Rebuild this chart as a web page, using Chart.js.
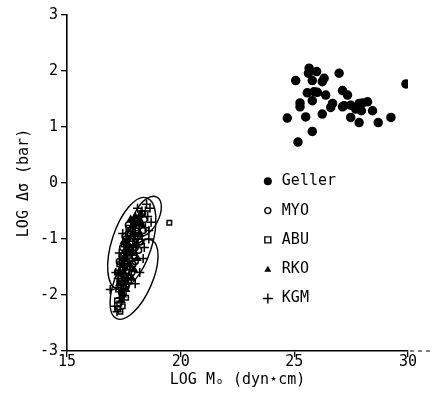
<!DOCTYPE html>
<html>
<head>
<meta charset="utf-8">
<script src="https://cdn.jsdelivr.net/npm/chart.js@4/dist/chart.umd.min.js"></script>
<style>
html,body{margin:0;padding:0;background:#fff;}
#wrap{width:432px;height:394px;}
</style>
</head>
<body>
<div id="wrap"><canvas id="c" width="432" height="394"></canvas></div>
<script>
// ---- data (LOG Mo, LOG stress drop) ----
const gellerX = [25.65,25.98,25.62,26.97,25.06,25.79,26.23,26.31,25.57,25.87,26.01,26.38,27.12,27.34,25.25,25.25,25.79,26.68,26.60,27.12,24.69,25.50,26.23,25.79,25.16,29.91,27.19,27.48,27.85,28.00,28.22,27.70,27.95,28.44,27.48,27.85,28.69,29.25];
const gellerY = [2.05,1.99,1.96,1.96,1.83,1.83,1.81,1.87,1.61,1.63,1.62,1.57,1.65,1.57,1.43,1.36,1.47,1.42,1.35,1.36,1.16,1.18,1.23,0.92,0.73,1.77,1.38,1.39,1.42,1.43,1.45,1.32,1.29,1.29,1.17,1.08,1.08,1.17];

const myoX = [17.6,17.8,18.0,17.5,17.9,18.2,17.7,18.1,17.4,17.95,18.3,17.65,18.05,17.55,17.85,17.3,18.15,17.75,18.4,17.6,17.7,18.25,17.45,17.7,18.0,17.6,17.85,18.1,17.5,17.8,18.2,17.35,17.95,17.55,18.35,17.4,17.7];
const myoY = [-1.0,-0.85,-1.15,-1.3,-1.45,-0.7,-1.6,-0.95,-1.55,-1.3,-0.55,-1.2,-0.8,-1.75,-1.05,-1.4,-1.2,-1.35,-0.65,-1.85,-0.75,-1.05,-1.15,-0.9,-1.4,-1.45,-1.6,-0.65,-1.65,-1.2,-1.05,-1.85,-0.75,-0.95,-0.85,-1.95,-1.75];

const abuX = [17.3,17.4,17.25,17.5,17.35,17.6,17.45,17.2,17.55,17.7,17.4,17.65,17.8,17.5,17.9,18.0,17.75,18.1,17.6,17.35,17.5,17.2,17.45,17.3,17.3,17.4,17.55,17.65,17.75,17.85,17.95,18.05,17.45,17.25,17.6,17.7,18.2,17.4,17.55,19.5];
const abuY = [-2.15,-2.0,-1.9,-1.85,-1.7,-1.65,-1.55,-1.6,-1.4,-1.5,-1.3,-1.25,-1.15,-1.1,-0.95,-1.05,-0.9,-0.85,-2.05,-2.3,-1.95,-2.1,-1.8,-1.45,-1.75,-1.6,-1.7,-1.4,-1.3,-1.0,-1.25,-0.7,-2.2,-2.25,-1.1,-0.8,-0.95,-1.4,-1.5,-0.71];

const rkoX = [17.7,17.9,18.2,17.45,17.6,18.0,17.85,17.3,18.3,17.55,17.95,17.4,18.1,17.8,17.65,17.5,17.75,17.35,17.6,18.05,17.9,18.15,17.45,17.7,18.25,17.85,17.5];
const rkoY = [-1.1,-0.75,-0.9,-1.45,-1.75,-0.6,-1.25,-1.8,-0.75,-1.2,-1.55,-2.1,-1.35,-0.65,-1.0,-1.35,-1.45,-1.6,-1.9,-1.1,-0.9,-0.7,-2.0,-1.25,-0.55,-1.7,-1.05];

const kgmX = [18.5,18.65,18.3,18.7,18.45,18.6,16.9,17.1,17.2,18.55,18.4,17.3,18.2,17.45,18.0,17.15,18.35,18.6,18.45,17.6,17.9,17.25,17.35,18.1,17.75];
const kgmY = [-0.38,-0.45,-0.5,-0.7,-0.8,-1.0,-1.9,-2.2,-2.3,-0.6,-1.15,-1.25,-1.6,-0.9,-1.8,-1.6,-1.35,-0.85,-0.5,-1.3,-1.15,-1.7,-2.05,-0.45,-1.55];

const xTicks = [15,20,25,30];
const yTicks = [-3,-2,-1,0,1,2,3];
const seriesNames = ['Geller','MYO','ABU','RKO','KGM'];

// enclosing ellipses: centre in data units, semi-axes in px, rotation in degrees
const ellipseCX = [17.85,17.95,18.5];
const ellipseCY = [-1.08,-1.72,-0.6];
const ellipseA = [48,43,22];
const ellipseB = [20,18,12];
const ellipseRot = [-72,-66,-62];

const FONT = 'DejaVu Sans Mono';
const pts = (xs, ys) => xs.map((x,i)=>({x:x, y:ys[i]}));

function drawMarker(ctx, style, x, y) {
  ctx.save();
  ctx.strokeStyle = '#000'; ctx.fillStyle = '#000'; ctx.lineWidth = 1.4;
  ctx.beginPath();
  if (style === 'dot') { ctx.arc(x,y,4,0,Math.PI*2); ctx.fill(); }
  else if (style === 'circle') { ctx.arc(x,y,3,0,Math.PI*2); ctx.stroke(); }
  else if (style === 'rect') { ctx.rect(x-3,y-3,6,6); ctx.stroke(); }
  else if (style === 'triangle') { ctx.moveTo(x,y-3.5); ctx.lineTo(x+3.5,y+2.5); ctx.lineTo(x-3.5,y+2.5); ctx.closePath(); ctx.fill(); }
  else if (style === 'cross') { ctx.moveTo(x-5,y); ctx.lineTo(x+5,y); ctx.moveTo(x,y-5); ctx.lineTo(x,y+5); ctx.stroke(); }
  ctx.restore();
}

const overlay = {
  id: 'overlay',
  afterDatasetsDraw(chart) {
    const ctx = chart.ctx, xs = chart.scales.x, ys = chart.scales.y;
    ctx.save();
    ctx.strokeStyle = '#000'; ctx.lineWidth = 1.4;
    for (let i=0;i<ellipseCX.length;i++) {
      ctx.beginPath();
      ctx.ellipse(xs.getPixelForValue(ellipseCX[i]), ys.getPixelForValue(ellipseCY[i]), ellipseA[i], ellipseB[i], ellipseRot[i]*Math.PI/180, 0, Math.PI*2);
      ctx.stroke();
    }
    ctx.restore();
    const ca = chart.chartArea;
    ctx.save();
    ctx.strokeStyle = '#000'; ctx.lineWidth = 1; ctx.setLineDash([4,4]);
    ctx.beginPath(); ctx.moveTo(ca.right+2, ca.bottom); ctx.lineTo(chart.width, ca.bottom); ctx.stroke();
    ctx.restore();
    const styles = ['dot','circle','rect','triangle','cross'];
    const tx = xs.getPixelForValue(24.45);
    const ty0 = ys.getPixelForValue(0.03);
    ctx.save();
    ctx.font = '15px "' + FONT + '"';
    ctx.fillStyle = '#000'; ctx.textBaseline = 'middle'; ctx.textAlign = 'left';
    seriesNames.forEach((n,i)=>{
      const y = ty0 + i*29.3;
      drawMarker(ctx, styles[i], tx-14, y);
      ctx.fillText(n, tx, y);
    });
    ctx.restore();
  }
};

const common = {showLine:false, borderColor:'#000', backgroundColor:'#000', borderWidth:1.5};
new Chart(document.getElementById('c'), {
  type: 'scatter',
  data: {
    datasets: [
      Object.assign({label:seriesNames[0], data:pts(gellerX,gellerY), pointStyle:'circle', pointRadius:4}, common),
      Object.assign({label:seriesNames[1], data:pts(myoX,myoY), pointStyle:'circle', pointRadius:3}, common, {backgroundColor:'rgba(255,255,255,0)'}),
      Object.assign({label:seriesNames[2], data:pts(abuX,abuY), pointStyle:'rect', pointRadius:3.2}, common, {backgroundColor:'rgba(255,255,255,0)'}),
      Object.assign({label:seriesNames[3], data:pts(rkoX,rkoY), pointStyle:'triangle', pointRadius:3.5}, common),
      Object.assign({label:seriesNames[4], data:pts(kgmX,kgmY), pointStyle:'cross', pointRadius:4.5}, common)
    ]
  },
  options: {
    responsive:false, animation:false, devicePixelRatio:1,
    layout:{padding:{top:15,right:24,left:0,bottom:0}},
    plugins:{legend:{display:false}, tooltip:{enabled:false}},
    scales:{
      x:{
        type:'linear', min:15, max:30,
        afterBuildTicks: s => { s.ticks = xTicks.map(v=>({value:v})); },
        afterFit: s => { s.height = 43; },
        ticks:{color:'#000', font:{family:FONT, size:15}, padding:-4, maxRotation:0},
        grid:{drawOnChartArea:false, drawTicks:true, tickLength:6, color:'#000', lineWidth:1.3},
        border:{display:true, color:'#000', width:1.6},
        title:{display:true, text:'LOG M\u2092 (dyn\u22C6cm)', color:'#000', font:{family:FONT, size:15}, padding:{top:0,bottom:5}}
      },
      y:{
        type:'linear', min:-3, max:3,
        afterBuildTicks: s => { s.ticks = yTicks.map(v=>({value:v})); },
        afterFit: s => { s.width = 67; },
        ticks:{color:'#000', font:{family:FONT, size:15}, padding:3},
        grid:{drawOnChartArea:false, drawTicks:true, tickLength:6, color:'#000', lineWidth:1.3},
        border:{display:true, color:'#000', width:1.6},
        title:{display:true, text:'LOG \u0394\u03C3 (bar)', color:'#000', font:{family:FONT, size:15}, padding:{top:15,bottom:0}}
      }
    }
  },
  plugins:[overlay]
});
</script>
</body>
</html>
